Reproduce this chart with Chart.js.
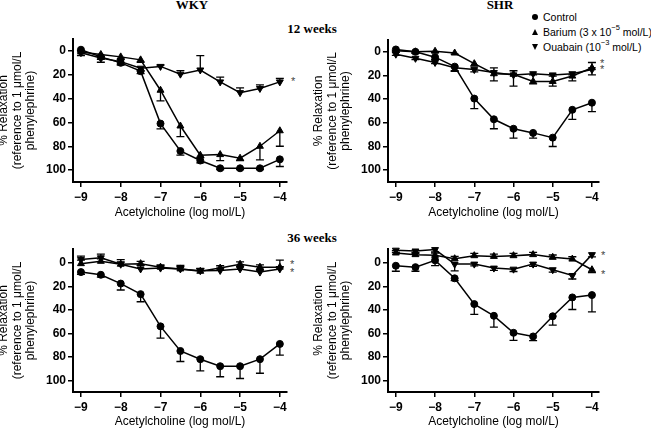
<!DOCTYPE html>
<html>
<head>
<meta charset="utf-8">
<script src="https://cdn.jsdelivr.net/npm/chart.js@4.4.1/dist/chart.umd.min.js"></script>
<style>
  body { margin: 0; width: 651px; height: 429px; position: relative; overflow: hidden; background: #fff;
         font-family: "Liberation Sans", Arial, sans-serif; }
  canvas { position: absolute; }
  .title { position: absolute; font-family: "Liberation Serif", "Times New Roman", serif; font-weight: bold;
           font-size: 13px; line-height: 13px; white-space: nowrap; transform: translateX(-50%); }
  .star { position: absolute; font-size: 11px; line-height: 11px; color: #444; }
  .legend { position: absolute; left: 543px; font-size: 10.5px; line-height: 15px; white-space: nowrap; color: #000; }
  .legend sup { font-size: 7.5px; position: relative; top: -1px; vertical-align: top; line-height: 8px; }
  .sym { position: absolute; left: 532px; }
</style>
</head>
<body>
<div class="title" style="left:192px; top:-2px;">WKY</div>
<div class="title" style="left:500px; top:-2px;">SHR</div>
<div class="title" style="left:312px; top:22px;">12 weeks</div>
<div class="title" style="left:312px; top:231px;">36 weeks</div>

<div class="sym" style="top:14px; width:6px; height:6px; border-radius:50%; background:#000;"></div>
<div class="sym" style="top:29px; width:0; height:0; border-left:3.5px solid transparent; border-right:3.5px solid transparent; border-bottom:6px solid #000;"></div>
<div class="sym" style="top:44px; width:0; height:0; border-left:3.5px solid transparent; border-right:3.5px solid transparent; border-top:6px solid #000;"></div>
<div class="legend" style="top:9.5px;">Control<br>Barium (3 x 10<sup>−5</sup> mol/L)<br>Ouabain (10<sup>−3</sup> mol/L)</div>

<div class="star" style="left:291px; top:76px;">*</div>
<div class="star" style="left:600px; top:58px;">*</div>
<div class="star" style="left:600px; top:64px;">*</div>
<div class="star" style="left:290px; top:259px;">*</div>
<div class="star" style="left:290px; top:267px;">*</div>
<div class="star" style="left:601px; top:250px;">*</div>
<div class="star" style="left:601px; top:269px;">*</div>

<canvas id="p1"></canvas>
<canvas id="p2"></canvas>
<canvas id="p3"></canvas>
<canvas id="p4"></canvas>

<script>
const doses = [-9, -8.5, -8, -7.5, -7, -6.5, -6, -5.5, -5, -4.5, -4];
const xTicks = [-9, -8, -7, -6, -5, -4];
const yTicks = [0, 20, 40, 60, 80, 100];

// WKY 12 weeks
const wky12Control = [-1, 5, 10, 17, 61, 84, 92, 98.5, 98.5, 98.5, 91];
const wky12ControlErr = [2, 2, 2, 2, 4.5, 3.5, 2, 1, 1, 1, 6];
const wky12Barium = [1, 3, 5, 7.5, 33, 63, 87.5, 87, 90, 80, 67];
const wky12BariumErr = [3, 2, 2, 2, 9, 9, 2, 5, 2, 11.5, 13];
const wky12Ouabain = [1.5, 6, 9, 14.5, 13, 19.5, 16, 26, 35, 31.5, 26];
const wky12OuabainErr = [-2, 3.5, 2, 2, -1, -3, -12, -4, -4, -3, -3];

// SHR 12 weeks
const shr12Control = [-2, 0, 4.5, 12.5, 39.5, 57, 65, 68.5, 72.5, 49, 43];
const shr12ControlErr = [1, 1, 2, 3.5, 8.5, 8, 8, 4.5, 7.5, 8, 7.5];
const shr12Barium = [-1, 0, -0.5, 1, 10, 18.5, 19, 25, 25, 20.5, 13.5];
const shr12BariumErr = [1, 1, 1, 1, 2, -5, -3, 2, 4, 4, -4.5];
const shr12Ouabain = [2, 5.5, 9, 13.5, 15, 17.5, 19.5, 18.5, 19.5, 18.5, 15];
const shr12OuabainErr = [1, 1, 1, 3, 2, 7, 9.5, 1, 1, 1, 4.5];

// WKY 36 weeks
const wky36Control = [7.7, 10, 17.5, 26.5, 54, 75, 82, 88, 88, 82, 69];
const wky36ControlErr = [2, 2, 5.5, 6.5, 10, 9, 10, 9, 10.5, 12, 9.5];
const wky36Barium = [0.5, -1.5, 1, 0.5, 3.5, 5, 7, 4.3, 1, 3.5, 3.5];
const wky36BariumErr = [-3, -2, -2, -2, -2, -2, -2, -2, -2, -2, -6];
const wky36Ouabain = [-3, -4.5, 1, 5, 4.3, 5, 6.5, 6.3, 5, 7.7, 5];
const wky36OuabainErr = [-3, -3.2, -4, -3, -2, -3, -2, -2, -2, -2, -2];

// SHR 36 weeks
const shr36Control = [2.3, 3.5, -2.3, 13, 35, 45, 59.5, 62.6, 45.4, 29.3, 27.3];
const shr36ControlErr = [4.7, 3.5, 4.5, 2, 8.7, 9.6, 6.5, 3.5, 7.6, 10.3, 14.4];
const shr36Barium = [-8.6, -7.2, -6.6, -3.7, -6.3, -5.7, -6.3, -7.2, -4.9, -3.4, 5.7];
const shr36BariumErr = [-2, -2, -2, -2, -2, -2, -2, -2, -2, -2, 2.5];
const shr36Ouabain = [-11, -10.3, -11.5, 0.9, 0.9, 4.3, 5.2, 0.9, 5.7, 10.6, -7.2];
const shr36OuabainErr = [2, 2, 2, 5.7, 1.5, 2, 2, 2, 2, 3, 2];

const errorBars = {
    id: 'errorBars',
    afterDatasetsDraw(chart) {
        const ctx = chart.ctx;
        const yScale = chart.scales.y;
        ctx.save();
        ctx.strokeStyle = '#000';
        ctx.lineWidth = 1.3;
        chart.data.datasets.forEach((ds, i) => {
            const meta = chart.getDatasetMeta(i);
            meta.data.forEach((pt, j) => {
                const e = ds.err[j];
                if (!e) return;
                const yEnd = yScale.getPixelForValue(ds.data[j].y + e);
                ctx.beginPath();
                ctx.moveTo(pt.x, pt.y);
                ctx.lineTo(pt.x, yEnd);
                ctx.moveTo(pt.x - 4, yEnd);
                ctx.lineTo(pt.x + 4, yEnd);
                ctx.stroke();
            });
        });
        ctx.restore();
    }
};

function series(values, err, style, rotation, radius) {
    return {
        data: values.map((v, i) => ({ x: doses[i], y: v })),
        err: err,
        borderColor: '#000',
        borderWidth: 1.5,
        backgroundColor: '#000',
        pointBackgroundColor: '#000',
        pointBorderColor: '#000',
        pointBorderWidth: 1,
        pointStyle: style,
        pointRotation: rotation,
        pointRadius: radius,
        tension: 0,
        clip: false
    };
}

function fmt(v) {
    return v < 0 ? '\u2212' + Math.abs(v) : String(v);
}

function makePanel(id, axisX, chartTop, chartRight, chartBottom, xAxisH, yMin, control, controlErr, barium, bariumErr, ouabain, ouabainErr) {
    const canvas = document.getElementById(id);
    const left = axisX - 76;
    const top = chartTop - 14;
    canvas.width = chartRight - left + 10;
    canvas.height = chartBottom + xAxisH - top;
    canvas.style.left = left + 'px';
    canvas.style.top = top + 'px';

    new Chart(canvas.getContext('2d'), {
        type: 'line',
        data: {
            datasets: [
                series(control, controlErr, 'circle', 0, 3.5),
                series(barium, bariumErr, 'triangle', 0, 4),
                series(ouabain, ouabainErr, 'triangle', 180, 4)
            ]
        },
        options: {
            responsive: false,
            animation: false,
            layout: { padding: { left: 0, top: 14, right: 10, bottom: 0 } },
            plugins: { legend: { display: false }, tooltip: { enabled: false } },
            scales: {
                x: {
                    type: 'linear',
                    min: -9.2,
                    max: -3.82,
                    afterBuildTicks: s => { s.ticks = xTicks.map(v => ({ value: v })); },
                    afterFit: s => { s.height = xAxisH; },
                    border: { color: '#000', width: 2 },
                    grid: { drawOnChartArea: false, color: '#000', lineWidth: 1.5, tickLength: 5 },
                    ticks: { color: '#000', font: { size: 12, weight: 'bold' }, padding: 3, callback: v => fmt(v) },
                    title: { display: true, text: 'Acetylcholine (log mol/L)', color: '#000', font: { size: 12 }, padding: 0 }
                },
                y: {
                    reverse: true,
                    min: yMin,
                    max: 110,
                    afterBuildTicks: s => { s.ticks = yTicks.map(v => ({ value: v })); },
                    afterFit: s => { s.width = 76; },
                    border: { color: '#000', width: 2 },
                    grid: { drawOnChartArea: false, color: '#000', lineWidth: 1.5, tickLength: 5 },
                    ticks: { color: '#000', font: { size: 12, weight: 'bold' }, padding: 2, callback: v => fmt(v) },
                    title: {
                        display: true,
                        text: ['% Relaxation', '(reference to 1 \u03bcmol/L', 'phenylephrine)'],
                        color: '#000',
                        font: { size: 12, lineHeight: 1.125 },
                        padding: 0
                    }
                }
            }
        },
        plugins: [errorBars]
    });
}

makePanel('p1', 73, 39, 287, 182, 38, -10, wky12Control, wky12ControlErr, wky12Barium, wky12BariumErr, wky12Ouabain, wky12OuabainErr);
makePanel('p2', 388, 40, 599, 182, 38, -10, shr12Control, shr12ControlErr, shr12Barium, shr12BariumErr, shr12Ouabain, shr12OuabainErr);
makePanel('p3', 73, 249, 287, 392, 37, -12, wky36Control, wky36ControlErr, wky36Barium, wky36BariumErr, wky36Ouabain, wky36OuabainErr);
makePanel('p4', 388, 249, 599, 392, 37, -12, shr36Control, shr36ControlErr, shr36Barium, shr36BariumErr, shr36Ouabain, shr36OuabainErr);
</script>
</body>
</html>
